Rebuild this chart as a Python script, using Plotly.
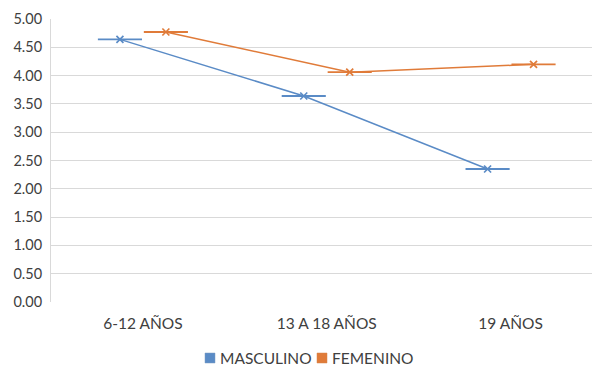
import plotly.graph_objects as go

categories = ["6-12 AÑOS", "13 A 18 AÑOS", "19 AÑOS"]
masculino = [4.64, 3.64, 2.35]
femenino = [4.77, 4.06, 4.20]
y_ticks = [0, 0.5, 1, 1.5, 2, 2.5, 3, 3.5, 4, 4.5, 5]
series_names = ["MASCULINO", "FEMENINO"]

blue = "#5A8BC6"
orange = "#E07B39"
text_col = "#404040"
offset = 0.125
dash_half = 0.12
FONT = "Lato, Open Sans, sans-serif"

W, H = 592, 368
L, R, T, B = 51, 0, 19, 66
pw, ph = W - L - R, H - T - B

def px_x(p):
    return (p - L) / pw

def px_y(p):
    return (H - B - p) / ph

fig = go.Figure()
for name, vals, col, off in [(series_names[0], masculino, blue, -offset),
                             (series_names[1], femenino, orange, offset)]:
    xs = [i + off for i in range(len(categories))]
    fig.add_trace(go.Scatter(
        x=xs, y=vals, name=name, mode="lines+markers",
        line=dict(color=col, width=1.5),
        marker=dict(symbol="x-thin", size=7, line=dict(color=col, width=1.7), color=col),
        error_x=dict(type="constant", value=dash_half, width=0, color=col, thickness=1.8),
        showlegend=False,
    ))

# manual legend (compact, like the reference)
legend_items = [(series_names[0], blue, 205), (series_names[1], orange, 317)]
shapes, annotations = [], []
for name, col, sx in legend_items:
    shapes.append(dict(type="rect", xref="paper", yref="paper",
                       x0=px_x(sx), x1=px_x(sx + 10), y0=px_y(363), y1=px_y(353),
                       fillcolor=col, line=dict(color="#7F9CC0" if col == blue else "#D7874F", width=0.5)))
    annotations.append(dict(text=name, xref="paper", yref="paper",
                            x=px_x(sx + 13), y=px_y(358), xanchor="left", yanchor="middle",
                            showarrow=False, font=dict(family=FONT, size=15.5, color=text_col)))

fig.update_layout(
    width=W, height=H,
    margin=dict(l=L, r=R, t=T, b=B),
    paper_bgcolor="white", plot_bgcolor="white",
    font=dict(family=FONT, size=15, color=text_col),
    showlegend=False,
    shapes=shapes, annotations=annotations,
    xaxis=dict(
        range=[-0.5, 2.443], tickmode="array",
        tickvals=list(range(len(categories))), ticktext=categories,
        showgrid=False, zeroline=False, showline=False, ticks="",
        ticklabelstandoff=10,
        tickfont=dict(family=FONT, size=15.5, color=text_col),
    ),
    yaxis=dict(
        range=[0, 5], tickmode="array", tickvals=y_ticks,
        ticktext=[f"{v:.2f}" for v in y_ticks],
        showgrid=True, gridcolor="#D9D9D9", gridwidth=1,
        zeroline=False, showline=True, linecolor="#D9D9D9", ticks="",
        ticklabelstandoff=5,
        tickfont=dict(family=FONT, size=14.5, color=text_col),
    ),
)

fig.write_html("out.html")
